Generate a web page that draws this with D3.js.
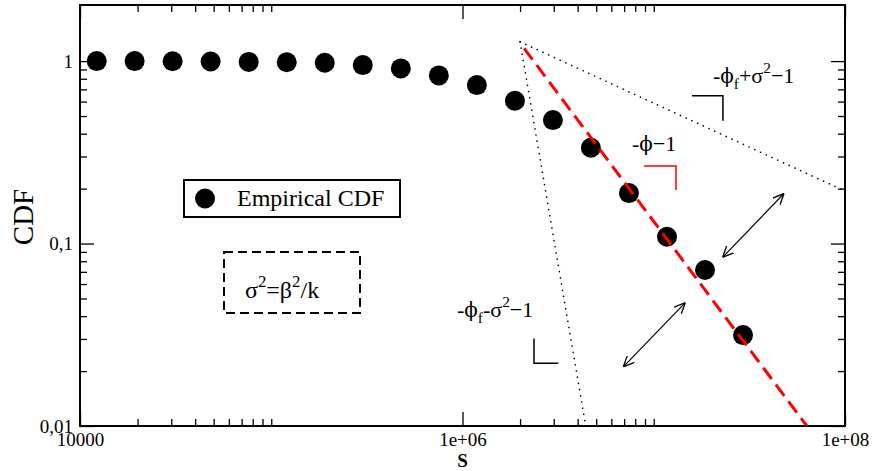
<!DOCTYPE html>
<html>
<head>
<meta charset="utf-8">
<script src="https://cdn.jsdelivr.net/npm/d3@7"></script>
<style>
  body { margin: 0; background: #fff; }
  svg { font-family: "Liberation Serif", "Times New Roman", serif; }
</style>
</head>
<body>
<svg id="chart" width="872" height="471"></svg>
<script>
// empirical CDF points (S, CDF)
var sizes = [12230, 19300, 30500, 48200, 76200, 120500, 190400, 301000, 475800,
             752000, 1189000, 1880000, 2970000, 4690000, 7420000, 11730000, 18540000, 29300000];
var cdf = [1.0, 1.0, 0.998, 0.995, 0.99, 0.985, 0.979, 0.951, 0.912,
           0.835, 0.739, 0.606, 0.475, 0.335, 0.189, 0.109, 0.0716, 0.0315];

// fitted power law (red dashed) and the two bounding slopes (dotted)
var fitLine = [[2.1e6, 1.174], [6.32e7, 0.01]];
var upperBound = [[2.0e6, 1.276], [1e8, 0.194]];
var lowerBound = [[2.0e6, 1.276], [4.41e6, 0.01]];

// slope markers (corner brackets) in data coords
var bracketUpper = [[1.585e7, 0.645], [2.30e7, 0.645], [2.30e7, 0.471]];
var bracketFit = [[8.89e6, 0.266], [1.307e7, 0.266], [1.307e7, 0.1964]];
var bracketLower = [[2.365e6, 0.0302], [2.365e6, 0.02206], [3.17e6, 0.02206]];

// double headed arrows
var arrows = [
  [[4.80e7, 0.188], [2.29e7, 0.084]],
  [[1.462e7, 0.0474], [6.93e6, 0.0211]]
];

// axis ticks
var xMajor = [1e4, 1e6, 1e8];
var xMajorLabels = ["10000", "1e+06", "1e+08"];
var xMinor = [2e4, 3e4, 4e4, 5e4, 6e4, 7e4, 8e4, 9e4, 1e5,
              2e6, 3e6, 4e6, 5e6, 6e6, 7e6, 8e6, 9e6, 1e7];
var yMajor = [0.01, 0.1, 1];
var yMajorLabels = ["0,01", "0,1", "1"];
var yMinor = [0.02, 0.03, 0.04, 0.05, 0.06, 0.07, 0.08, 0.09,
              0.2, 0.3, 0.4, 0.5, 0.6, 0.7, 0.8, 0.9];

var svg = d3.select("#chart");
var plotLeft = 80, plotRight = 845, plotTop = 5, plotBottom = 426;
var serif = '"Liberation Serif", "Times New Roman", serif';

var xScale = d3.scaleLog().domain([1e4, 1e8]).range([plotLeft, plotRight]);
var yScale = d3.scaleLog().domain([0.01, 2.03]).range([plotBottom, plotTop]);

var defs = svg.append("defs");
defs.append("clipPath").attr("id", "plotClip")
  .append("rect")
  .attr("x", plotLeft).attr("y", plotTop)
  .attr("width", plotRight - plotLeft).attr("height", plotBottom - plotTop);

defs.append("marker")
  .attr("id", "head")
  .attr("markerUnits", "userSpaceOnUse")
  .attr("viewBox", "0 0 10 10")
  .attr("refX", 10).attr("refY", 5)
  .attr("markerWidth", 11).attr("markerHeight", 11)
  .attr("orient", "auto-start-reverse")
  .append("path")
  .attr("d", "M0,0.5 L10,5 L0,9.5")
  .attr("fill", "none")
  .attr("stroke", "#000")
  .attr("stroke-width", 1.2);

// ticks, all pointing inward
function styleAxis(g) {
  g.attr("font-family", serif).attr("font-size", 19);
  g.select(".domain").remove();
  g.selectAll(".tick line").attr("stroke", "#000").attr("stroke-width", 1.3);
  g.selectAll("text").attr("fill", "#000");
}

svg.append("g").attr("transform", `translate(0, ${plotBottom})`)
  .call(d3.axisBottom(xScale).tickValues(xMajor).tickSize(-14).tickPadding(7)
    .tickFormat(function(d, i) { return xMajorLabels[i]; }))
  .call(styleAxis);
svg.append("g").attr("transform", `translate(0, ${plotBottom})`)
  .call(d3.axisBottom(xScale).tickValues(xMinor).tickSize(-7).tickFormat(""))
  .call(styleAxis);
svg.append("g").attr("transform", `translate(0, ${plotTop})`)
  .call(d3.axisTop(xScale).tickValues(xMajor).tickSize(-14).tickFormat(""))
  .call(styleAxis);
svg.append("g").attr("transform", `translate(0, ${plotTop})`)
  .call(d3.axisTop(xScale).tickValues(xMinor).tickSize(-7).tickFormat(""))
  .call(styleAxis);

svg.append("g").attr("transform", `translate(${plotLeft}, 0)`)
  .call(d3.axisLeft(yScale).tickValues(yMajor).tickSize(-14).tickPadding(7)
    .tickFormat(function(d, i) { return yMajorLabels[i]; }))
  .call(styleAxis);
svg.append("g").attr("transform", `translate(${plotLeft}, 0)`)
  .call(d3.axisLeft(yScale).tickValues(yMinor).tickSize(-7).tickFormat(""))
  .call(styleAxis);
svg.append("g").attr("transform", `translate(${plotRight}, 0)`)
  .call(d3.axisRight(yScale).tickValues(yMajor).tickSize(-14).tickFormat(""))
  .call(styleAxis);
svg.append("g").attr("transform", `translate(${plotRight}, 0)`)
  .call(d3.axisRight(yScale).tickValues(yMinor).tickSize(-7).tickFormat(""))
  .call(styleAxis);

// frame
svg.append("rect")
  .attr("x", plotLeft).attr("y", plotTop)
  .attr("width", plotRight - plotLeft).attr("height", plotBottom - plotTop)
  .attr("fill", "none").attr("stroke", "#000").attr("stroke-width", 2);

// axis titles
svg.append("text")
  .attr("x", xScale(1e6)).attr("y", 467)
  .attr("text-anchor", "middle")
  .style("font-size", "19px")
  .style("font-weight", "bold")
  .text("S");
svg.append("text")
  .attr("transform", "translate(33, 217) rotate(-90)")
  .attr("text-anchor", "middle")
  .style("font-size", "29px")
  .text("CDF");

var line = d3.line()
  .x(function(d) { return xScale(d[0]); })
  .y(function(d) { return yScale(d[1]); });

var plot = svg.append("g").attr("clip-path", "url(#plotClip)");

// dotted bounds
[upperBound, lowerBound].forEach(function(seg) {
  plot.append("path")
    .attr("d", line(seg))
    .attr("fill", "none")
    .attr("stroke", "#000")
    .attr("stroke-width", 1.6)
    .attr("stroke-linecap", "round")
    .attr("stroke-dasharray", "0.1,6.2");
});

// points
var points = sizes.map(function(s, i) { return [s, cdf[i]]; });
plot.selectAll("circle.pt").data(points).enter()
  .append("circle")
  .attr("class", "pt")
  .attr("cx", function(d) { return xScale(d[0]); })
  .attr("cy", function(d) { return yScale(d[1]); })
  .attr("r", 10)
  .attr("fill", "#000");

// fit line
plot.append("path")
  .attr("d", line(fitLine))
  .attr("fill", "none")
  .attr("stroke", "#ff0000")
  .attr("stroke-width", 3)
  .attr("stroke-dasharray", "14,7");

// brackets
plot.append("path").attr("d", line(bracketUpper))
  .attr("fill", "none").attr("stroke", "#000").attr("stroke-width", 1.5);
plot.append("path").attr("d", line(bracketFit))
  .attr("fill", "none").attr("stroke", "#ff0000").attr("stroke-width", 1.5);
plot.append("path").attr("d", line(bracketLower))
  .attr("fill", "none").attr("stroke", "#000").attr("stroke-width", 1.5);

// arrows
arrows.forEach(function(a) {
  plot.append("path")
    .attr("d", line(a))
    .attr("fill", "none")
    .attr("stroke", "#000")
    .attr("stroke-width", 1.2)
    .attr("marker-start", "url(#head)")
    .attr("marker-end", "url(#head)");
});

// text with sub / superscripts
function mathText(x, y, size, parts) {
  var t = svg.append("text").attr("x", x).attr("y", y)
    .style("font-size", size + "px").style("font-family", serif);
  var shift = 0;
  parts.forEach(function(p) {
    var target = p.sup ? -0.45 * size : (p.sub ? 0.3 * size : 0);
    var ts = t.append("tspan").text(p.t).attr("dy", target - shift);
    if (p.sup || p.sub) ts.style("font-size", (size * 0.7) + "px");
    if (p.sym) ts.style("font-family", '"DejaVu Serif", serif').style("font-size", (size * 0.9) + "px");
    shift = target;
  });
  return t;
}

mathText(xScale(2.04e7), yScale(0.760), 22,
  [{t: "-"}, {t: "ϕ", sym: true}, {t: "f", sub: true}, {t: "+σ"}, {t: "2", sup: true}, {t: "−1"}]);
mathText(xScale(7.69e6), yScale(0.3225), 22,
  [{t: "-"}, {t: "ϕ", sym: true}, {t: "−1"}]);
mathText(xScale(9.36e5), yScale(0.0397), 22,
  [{t: "-"}, {t: "ϕ", sym: true}, {t: "f", sub: true}, {t: "-σ"}, {t: "2", sup: true}, {t: "−1"}]);

// legend
var legend = svg.append("g");
legend.append("rect")
  .attr("x", 184).attr("y", 180).attr("width", 216).attr("height", 37)
  .attr("fill", "#fff").attr("stroke", "#000").attr("stroke-width", 2);
legend.append("circle").attr("cx", 205).attr("cy", 198.5).attr("r", 10).attr("fill", "#000");
legend.append("text").attr("x", 237).attr("y", 206)
  .style("font-size", "24px").style("font-family", serif).text("Empirical CDF");

// sigma box
svg.append("rect")
  .attr("x", 224).attr("y", 252).attr("width", 136).attr("height", 61)
  .attr("fill", "none").attr("stroke", "#000").attr("stroke-width", 2)
  .attr("stroke-dasharray", "9,5");
mathText(245, 298, 24,
  [{t: "σ"}, {t: "2", sup: true}, {t: "=β"}, {t: "2", sup: true}, {t: "/k"}]);
</script>
</body>
</html>
